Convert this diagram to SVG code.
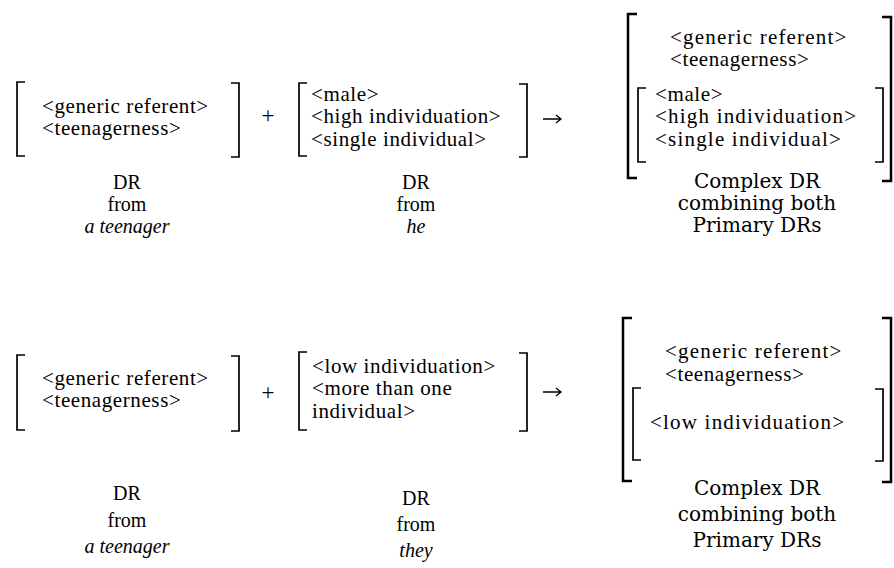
<svg xmlns="http://www.w3.org/2000/svg" width="894" height="568" viewBox="0 0 894 568">
<style>
.t{font-family:"Liberation Serif","Times New Roman",serif;font-size:21px;letter-spacing:0.6px;fill:#000}
.w{letter-spacing:1.2px}
.l{font-family:"Liberation Serif","Times New Roman",serif;font-size:20px;fill:#000;text-anchor:middle}
.r{font-family:"DejaVu Serif","Liberation Serif",serif;font-size:20px;fill:#000;text-anchor:middle}
.i{font-style:italic}
.b{fill:none;stroke:#000;stroke-width:1.7}
.bb{fill:none;stroke:#000;stroke-width:2.5}
.a{fill:none;stroke:#000;stroke-width:1.3}
</style>
<rect width="894" height="568" fill="#fff"/>
<g id="row1-dr1">
<path class="b" d="M25,82 H17 V156 H25"/>
<path class="b" d="M231,83 H239 V157 H231"/>
<text class="t" x="42" y="113">&lt;generic referent&gt;</text>
<text class="t" x="42" y="135">&lt;teenagerness&gt;</text>
<text class="l" x="127" y="189">DR</text>
<text class="l" x="127" y="211">from</text>
<text class="l i" x="127" y="233">a teenager</text>
</g>
<g id="row1-dr2">
<path class="b" d="M307,83 H299 V156 H307"/>
<path class="b" d="M519,84 H527 V157 H519"/>
<text class="t" x="311" y="101">&lt;male&gt;</text>
<text class="t" x="311" y="123">&lt;high individuation&gt;</text>
<text class="t" x="311" y="146">&lt;single individual&gt;</text>
<text class="l" x="416" y="189">DR</text>
<text class="l" x="416" y="211">from</text>
<text class="l i" x="416" y="233">he</text>
</g>
<g id="row1-complex">
<path class="bb" d="M637,14 H628 V178 H637"/>
<path class="bb" d="M882,17 H891 V181 H882"/>
<path class="b" d="M646,88 H638 V162 H646"/>
<path class="b" d="M875,88 H883 V162 H875"/>
<text class="t w" x="670" y="44">&lt;generic referent&gt;</text>
<text class="t" x="670" y="66">&lt;teenagerness&gt;</text>
<text class="t" x="655" y="101">&lt;male&gt;</text>
<text class="t w" x="655" y="123">&lt;high individuation&gt;</text>
<text class="t w" x="655" y="146">&lt;single individual&gt;</text>
<text class="r" x="757" y="188">Complex DR</text>
<text class="r" x="757" y="210">combining both</text>
<text class="r" x="757" y="232">Primary DRs</text>
</g>
<g id="row2-dr1">
<path class="b" d="M25,355 H17 V430 H25"/>
<path class="b" d="M231,356 H239 V431 H231"/>
<text class="t" x="42" y="385">&lt;generic referent&gt;</text>
<text class="t" x="42" y="407">&lt;teenagerness&gt;</text>
<text class="l" x="127" y="500">DR</text>
<text class="l" x="127" y="527">from</text>
<text class="l i" x="127" y="553">a teenager</text>
</g>
<g id="row2-dr2">
<path class="b" d="M307,352 H299 V430 H307"/>
<path class="b" d="M519,353 H527 V431 H519"/>
<text class="t" x="312" y="373">&lt;low individuation&gt;</text>
<text class="t" x="312" y="395">&lt;more than one</text>
<text class="t" x="312" y="418">individual&gt;</text>
<text class="l" x="416" y="505">DR</text>
<text class="l" x="416" y="531">from</text>
<text class="l i" x="416" y="557">they</text>
</g>
<g id="row2-complex">
<path class="bb" d="M632,318 H623 V481 H632"/>
<path class="bb" d="M882,318 H891 V482 H882"/>
<path class="b" d="M641,388 H633 V460 H641"/>
<path class="b" d="M875,389 H883 V461 H875"/>
<text class="t w" x="665" y="358">&lt;generic referent&gt;</text>
<text class="t" x="665" y="381">&lt;teenagerness&gt;</text>
<text class="t w" x="650" y="429">&lt;low individuation&gt;</text>
<text class="r" x="757" y="495">Complex DR</text>
<text class="r" x="757" y="521">combining both</text>
<text class="r" x="757" y="547">Primary DRs</text>
</g>
<g id="connectors">
<text class="l" x="268" y="123" style="font-size:23px">+</text>
<text class="l" x="268" y="400" style="font-size:23px">+</text>
<path class="a" d="M543,119 H561 M556,115 L561,119 L556,123"/>
<path class="a" d="M543,392 H561 M556,388 L561,392 L556,396"/>
</g>
</svg>
